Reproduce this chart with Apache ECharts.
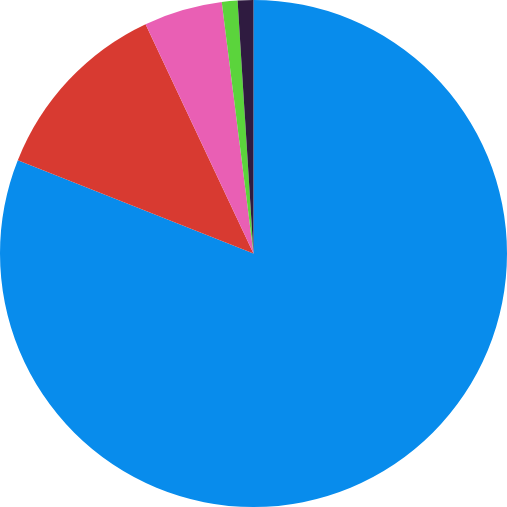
<!DOCTYPE html>
<html><head><meta charset="utf-8">
<script src="https://cdn.jsdelivr.net/npm/echarts@6/dist/echarts.min.js"></script>
<style>html,body{margin:0;padding:0;background:#fff}#c{width:507px;height:507px}</style>
</head><body><div id="c"></div>
<script>
const categories = ['A', 'B', 'C', 'D', 'E'];
const values = [81, 12, 5, 1, 1];
const colors = ['#088cec', '#d83a31', '#e95fb4', '#5bd43c', '#2f1b40'];
const chart = echarts.init(document.getElementById('c'), null, {renderer: 'canvas'});
chart.setOption({
  animation: false,
  series: [{
    type: 'pie',
    center: ['50%', '50%'],
    radius: ['0%', '100%'],
    startAngle: 90,
    clockwise: true,
    label: {show: false},
    labelLine: {show: false},
    itemStyle: {borderWidth: 0},
    data: categories.map((n, i) => ({name: n, value: values[i], itemStyle: {color: colors[i]}}))
  }]
});
</script></body></html>
